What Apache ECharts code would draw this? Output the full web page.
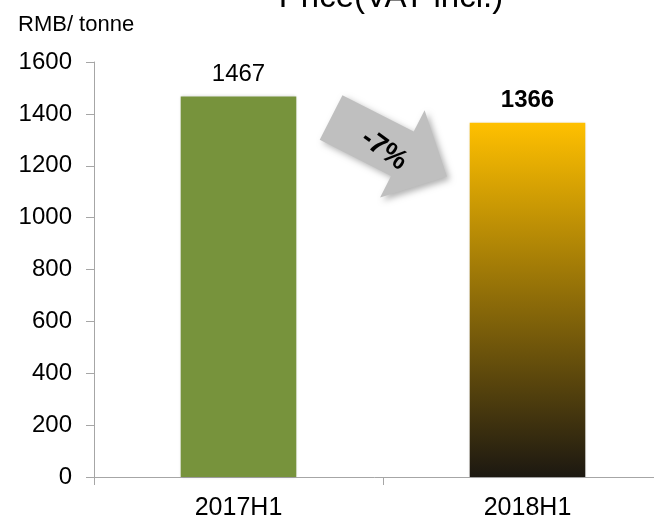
<!DOCTYPE html>
<html>
<head>
<meta charset="utf-8">
<script src="https://cdn.jsdelivr.net/npm/echarts@6/dist/echarts.min.js"></script>
<style>html,body{margin:0;padding:0;background:#fff}#c{width:654px;height:519px}</style>
</head>
<body>
<div id="c"></div>
<script>
var categories = ['2017H1', '2018H1'];
var prices = [1467, 1366];
var yTicks = [0, 200, 400, 600, 800, 1000, 1200, 1400, 1600];
var changeLabel = '-7%';
var titleText = 'Price(VAT incl.)';
var unitText = 'RMB/ tonne';

var FONT = '"Liberation Sans", Arial, sans-serif';
var chart = echarts.init(document.getElementById('c'), null, {renderer: 'canvas'});

// arrow polygon (annotation) built in local coordinates then rotated
function arrowPoints(cx, cy, angleDeg) {
  var a = angleDeg * Math.PI / 180, ca = Math.cos(a), sa = Math.sin(a);
  var local = [[0, -25], [80, -25], [80, -49], [130, 0], [80, 49], [80, 25], [0, 25]];
  return local.map(function (p) {
    var x = p[0] - 65, y = p[1];
    return [cx + x * ca - y * sa, cy + x * sa + y * ca];
  });
}

var option = {
  animation: false,
  backgroundColor: '#ffffff',
  title: {
    text: titleText,
    left: 386, top: -24, textAlign: 'center',
    textStyle: {fontFamily: FONT, fontSize: 33, fontWeight: 'normal', color: '#000'}
  },
  grid: {left: 94, right: -18, top: 62, bottom: 42, containLabel: false, outerBoundsMode: 'none'},
  xAxis: {
    type: 'category',
    data: categories,
    boundaryGap: true,
    axisLine: {show: true, lineStyle: {color: '#a6a6a6', width: 1}},
    axisTick: {show: true, alignWithLabel: false, length: 8, lineStyle: {color: '#a6a6a6'}},
    axisLabel: {fontFamily: FONT, fontSize: 25, color: '#000', margin: 19}
  },
  yAxis: {
    type: 'value',
    min: yTicks[0], max: yTicks[yTicks.length - 1], interval: 200,
    name: unitText,
    nameLocation: 'end',
    nameGap: 0,
    nameTextStyle: {fontFamily: FONT, fontSize: 22, color: '#000', align: 'left', padding: [0, 0, 26, -76]},
    axisLine: {show: true, lineStyle: {color: '#a6a6a6', width: 1}},
    axisTick: {show: true, length: 8, lineStyle: {color: '#a6a6a6'}},
    splitLine: {show: false},
    axisLabel: {fontFamily: FONT, fontSize: 24, color: '#000', margin: 22,
      formatter: function (v) { return String(v); }}
  },
  series: [{
    type: 'bar',
    barWidth: '40%',
    data: prices.map(function (v, i) {
      return {
        value: v,
        itemStyle: i === 0 ? {color: '#77933c'} : {
          color: new echarts.graphic.LinearGradient(0, 0, 0, 1, [
            {offset: 0, color: '#ffc000'},
            {offset: 1, color: '#1c1811'}
          ])
        },
        label: {fontWeight: i === 0 ? 'normal' : 'bold'}
      };
    }),
    itemStyle: {shadowBlur: 3, shadowColor: 'rgba(0,0,0,0.18)'},
    label: {
      show: true, position: 'top', distance: 10,
      fontFamily: FONT, fontSize: 24, color: '#000'
    }
  }],
  graphic: [
    {
      type: 'polygon',
      shape: {points: arrowPoints(389, 147, 27)},
      style: {fill: '#bfbfbf', shadowBlur: 6, shadowOffsetX: 3, shadowOffsetY: 3, shadowColor: 'rgba(0,0,0,0.3)'},
      z: 10
    },
    {
      type: 'text',
      x: 384, y: 150,
      rotation: -0.62,
      style: {text: changeLabel, fontFamily: FONT, fontSize: 28, fontWeight: 'bold', fill: '#000',
        align: 'center', verticalAlign: 'middle'},
      z: 11
    }
  ]
};
chart.setOption(option);
</script>
</body>
</html>
